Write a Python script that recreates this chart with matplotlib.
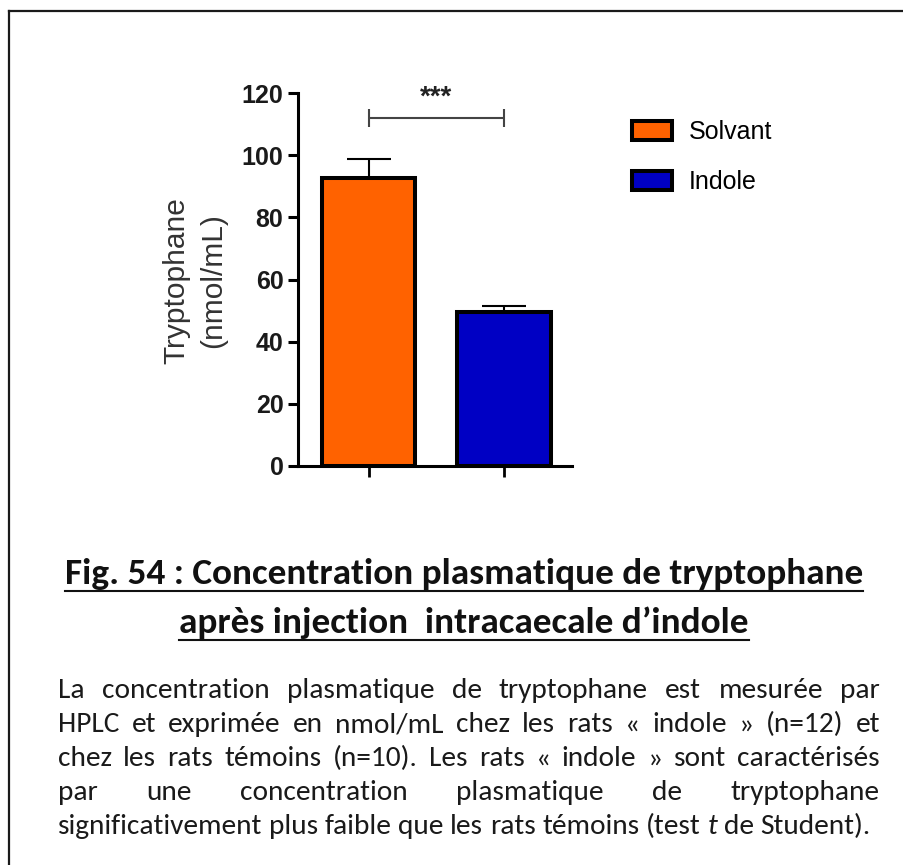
import matplotlib
matplotlib.use('Agg')
import matplotlib.pyplot as plt
import numpy as np
from matplotlib import font_manager
from matplotlib.lines import Line2D
from matplotlib.patches import Patch

# données
groups = ['Solvant', 'Indole']
means = [92.8, 49.6]
sems = [6.0, 1.7]
colors = ['#FF6200', '#0000C4']
yticks = [0, 20, 40, 60, 80, 100, 120]
signif = '***'
signif_y = 112

ylabel = 'Tryptophane\n(nmol/mL)'
title_lines = ['Fig. 54 : Concentration plasmatique de tryptophane',
               'après injection  intracaecale d\u2019indole']
# mots entre _ _ en italique
caption_lines = [
    'La concentration plasmatique de tryptophane est mesurée par',
    'HPLC et exprimée en nmol/mL chez les rats « indole » (n=12) et',
    'chez les rats témoins (n=10). Les rats « indole » sont caractérisés',
    'par une concentration plasmatique de tryptophane',
    'significativement plus faible que les rats témoins (test _t_ de Student).',
]


def pick_font(names):
    for name in names:
        try:
            font_manager.findfont(font_manager.FontProperties(family=name),
                                  fallback_to_default=False)
            return name
        except ValueError:
            pass
    return 'DejaVu Sans'


text_font = pick_font(['Carlito', 'Lato', 'Open Sans'])
plot_font = pick_font(['Liberation Sans', 'Arial'])
plt.rcParams['font.family'] = [plot_font, 'DejaVu Sans']

W, H = 904, 865
fig = plt.figure(figsize=(W / 100, H / 100), dpi=100)
renderer = fig.canvas.get_renderer()


def fx(px):
    return px / W


def fy(py):
    return 1 - py / H


def px_width(s, **kw):
    t = fig.text(0, 0, s, **kw)
    w = t.get_window_extent(renderer).width
    t.remove()
    return w


# cadre (gauche + haut)
fig.add_artist(Line2D([fx(9), fx(9)], [0, fy(11)], transform=fig.transFigure,
                      color='#1a1a1a', lw=1.6))
fig.add_artist(Line2D([fx(9), 1], [fy(11), fy(11)], transform=fig.transFigure,
                      color='#1a1a1a', lw=1.6))

# graphique
ax = fig.add_axes([fx(298.3), fy(465.7), fx(571.7) - fx(298.3), (465.7 - 93.3) / H])
x = np.arange(len(groups))
ax.errorbar(x, means, yerr=[np.zeros(len(sems)), sems], fmt='none', ecolor='black',
            elinewidth=1.5, capsize=16, capthick=1.5, zorder=2)
bars = ax.bar(x, means, width=0.69, color=colors, edgecolor='black', linewidth=2.9, zorder=3)

ax.set_xlim(-0.52, 1.5)
ax.set_ylim(0, 120)
ax.set_yticks(yticks)
ax.set_xticks(x)
ax.set_xticklabels([])
for side in ['top', 'right']:
    ax.spines[side].set_visible(False)
for side in ['left', 'bottom']:
    ax.spines[side].set_linewidth(2.2)
ax.tick_params(axis='y', length=7.2, width=2.2, labelsize=18, pad=3.5)
ax.tick_params(axis='x', length=7.9, width=2.0)
for lab in ax.get_yticklabels():
    lab.set_fontweight('bold')
    lab.set_color('#1a1a1a')

# barre de significativité
ax.hlines(signif_y, x[0], x[1], color='#444444', lw=1.5, clip_on=False)
ax.vlines([x[0], x[1]], signif_y - 3, signif_y + 3, color='#444444', lw=1.5, clip_on=False)
ax.text((x[0] + x[1]) / 2, signif_y + 4.3, signif, ha='center', va='baseline',
        fontsize=20, fontweight='bold', color='#222222', clip_on=False)

fig.text(fx(195), fy(281), ylabel, rotation=90, ha='center', va='center',
         multialignment='center', fontsize=21.5, linespacing=1.4, color='#333333')

handles = [Patch(facecolor=c, edgecolor='black', linewidth=2.9) for c in colors]
ax.legend(handles, groups, loc='upper left', bbox_to_anchor=(fx(631.7), fy(120)),
          bbox_transform=fig.transFigure, frameon=False, fontsize=18, borderpad=0,
          borderaxespad=0, handlelength=1.6, handleheight=0.8, handletextpad=0.7,
          labelspacing=1.05)

# titre souligné
title_size = 20 * 797 / px_width(title_lines[0], fontsize=20, family=text_font,
                                  fontweight='bold')
for line, base, under in zip(title_lines, [584, 633], [591, 640]):
    t = fig.text(fx(464), fy(base), line, ha='center', va='baseline',
                 fontsize=title_size, family=text_font, fontweight='bold', color='#111111')
    bb = t.get_window_extent(renderer)
    fig.add_artist(Line2D([fx(bb.x0), fx(bb.x1)], [fy(under), fy(under)],
                          transform=fig.transFigure, color='#111111', lw=1.5))

# légende justifiée
last = caption_lines[-1].replace('_', '')
cap_size = 16 * 814 / px_width(last, fontsize=16, family=text_font)
left, right = 58, 880
space = px_width('a a', fontsize=cap_size, family=text_font) - \
    px_width('aa', fontsize=cap_size, family=text_font)

for i, line in enumerate(caption_lines):
    words = line.split(' ')
    styles = ['italic' if w.startswith('_') else 'normal' for w in words]
    words = [w.strip('_') for w in words]
    widths = [px_width(w, fontsize=cap_size, family=text_font, style=s)
              for w, s in zip(words, styles)]
    if i < len(caption_lines) - 1:
        gap = (right - left - sum(widths)) / (len(words) - 1)
    else:
        gap = space
    xpos = left
    base = 698.3 + 34 * i
    for w, s, wd in zip(words, styles, widths):
        fig.text(fx(xpos), fy(base), w, ha='left', va='baseline', fontsize=cap_size,
                 family=text_font, style=s, color='#1a1a1a')
        xpos += wd + gap

fig.savefig('out.png', dpi=100)
